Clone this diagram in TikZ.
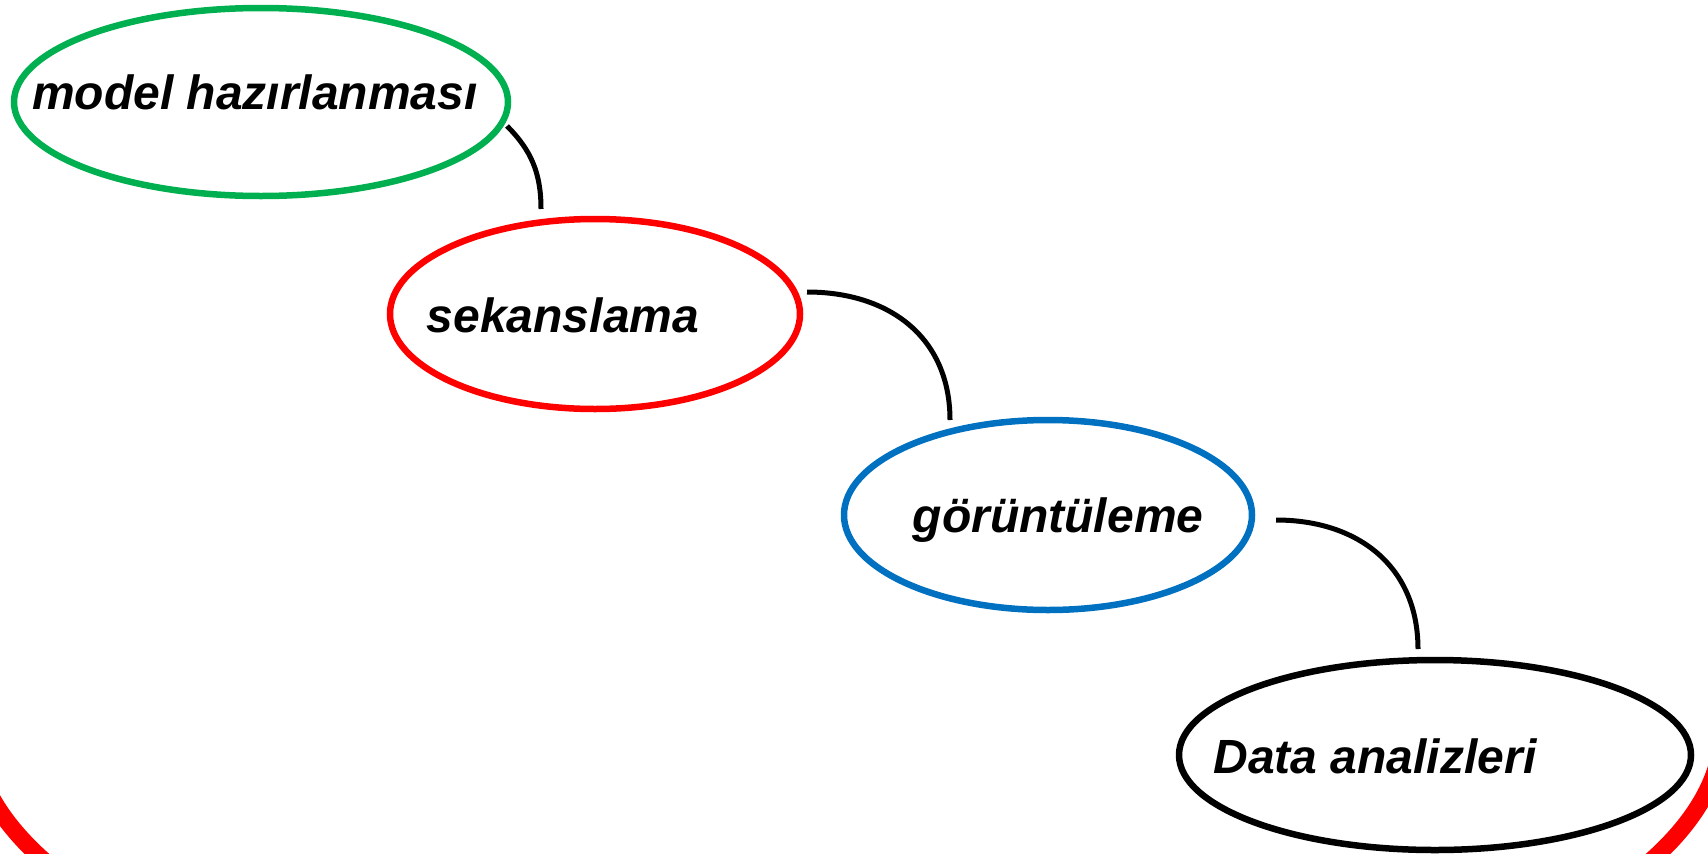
\documentclass[tikz,border=0pt]{standalone}
\usepackage{fontspec}
\setmainfont{Liberation Sans}
\usetikzlibrary{shapes.geometric}
\definecolor{stepgreen}{RGB}{0,176,80}
\definecolor{stepred}{RGB}{255,0,0}
\definecolor{stepblue}{RGB}{0,112,192}
\tikzset{
  stage/.style={ellipse, draw, line width=6.5pt, inner sep=0pt, fill=white},
  label/.style={anchor=base, font=\fontsize{48}{57}\selectfont\bfseries\itshape},
  link/.style={line width=5pt, draw=black}
}
\begin{document}
\begin{tikzpicture}[x=1pt,y=1pt]
  \useasboundingbox (0,0) rectangle (1708,-854);
  \clip (0,0) rectangle (1708,-854);
  % large red frame arc along the bottom
  \draw[stepred, line width=17pt] (847.5,-727.5) ++(180:875 and 335.7)
    arc[start angle=180, end angle=360, x radius=875, y radius=335.7];
  % process stages
  \node[stage, draw=stepgreen, minimum width=494pt, minimum height=188pt] (model) at (261,-102) {};
  \node[stage, draw=stepred, minimum width=410pt, minimum height=190pt] (seq) at (595,-314) {};
  \node[stage, draw=stepblue, minimum width=408pt, minimum height=190pt] (img) at (1048,-515) {};
  \node[stage, draw=black, minimum width=512pt, minimum height=190pt] (data) at (1435,-755) {};
  % stage texts
  \node[label] (tmodel) at (255,-109) {model hazırlanması};
  \node[label] (tseq) at (563,-332) {sekanslama};
  \node[label] (timg) at (1058,-532) {görüntüleme};
  \node[label] (tdata) at (1375,-773) {Data analizleri};
  % connector end points
  \coordinate (a1) at (507,-126);
  \coordinate (b1) at (541,-209);
  \coordinate (a2) at (807,-292);
  \coordinate (b2) at (950,-420);
  \coordinate (a3) at (1276,-520);
  \coordinate (b3) at (1418,-649);
  \draw[link] (a1) to[out=-45,in=90] (b1);
  \draw[link] (a2) to[out=0,in=90,looseness=1.1] (b2);
  \draw[link] (a3) to[out=0,in=90,looseness=1.1] (b3);
\end{tikzpicture}
\end{document}
